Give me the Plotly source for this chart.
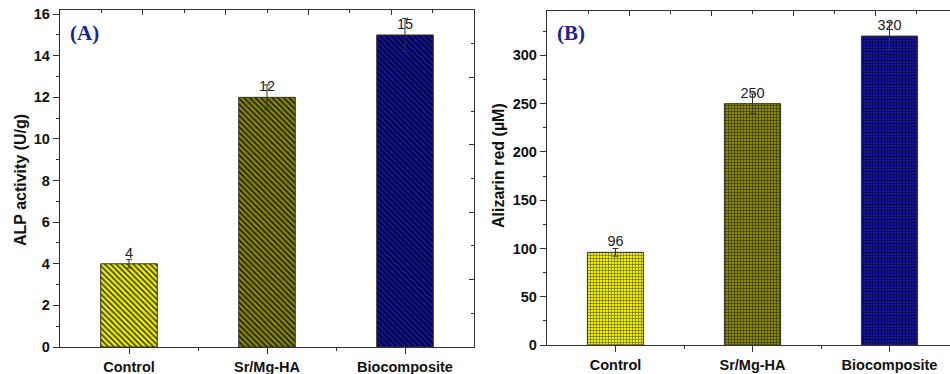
import plotly.graph_objects as go

categories = ["Control", "Sr/Mg-HA", "Biocomposite"]
alp_values = [4, 12, 15]
alp_errors = [0.2, 0.6, 0.8]
alizarin_values = [96, 250, 320]
alizarin_errors = [4, 10, 14]
alp_labels = ["4", "12", "15"]
alizarin_labels = ["96", "250", "320"]

bar_bg = ["#f0f000", "#8a8a00", "#14149e"]
bar_fg = ["#3c3c00", "#1c1c00", "#000020"]

W, H = 950, 374
xpos = list(range(len(categories)))

fig = go.Figure()

for i, cat in enumerate(categories):
    common = dict(x=[xpos[i]], width=0.41, showlegend=False, hoverinfo="skip", cliponaxis=False,
                  textposition="outside", name=cat,
                  textfont=dict(family="Arial, Liberation Sans", size=14.5, color="#222222"))
    fig.add_trace(go.Bar(
        y=[alp_values[i]], xaxis="x", yaxis="y", text=[alp_labels[i]],
        marker=dict(color=bar_bg[i], line=dict(color="#333333", width=1),
                    pattern=dict(shape="\\", fgcolor=bar_fg[i], bgcolor=bar_bg[i],
                                 fgopacity=1, size=4, solidity=0.4)),
        error_y=dict(type="data", array=[alp_errors[i]], color="#333333", thickness=1, width=3),
        **common))
    fig.add_trace(go.Bar(
        y=[alizarin_values[i]], xaxis="x2", yaxis="y2", text=[alizarin_labels[i]],
        marker=dict(color=bar_bg[i], line=dict(color="#333333", width=1),
                    pattern=dict(shape="+", fgcolor=bar_fg[i], bgcolor=bar_bg[i],
                                 fgopacity=1, size=3, solidity=0.3)),
        error_y=dict(type="data", array=[alizarin_errors[i]], color="#333333", thickness=1, width=3),
        **common))

# empty helper traces so the mirrored (top / right) frame axes get drawn
for xa, ya in [("x3", "y"), ("x", "y3"), ("x4", "y2")]:
    fig.add_trace(go.Scatter(x=[None], y=[None], xaxis=xa, yaxis=ya, mode="markers",
                             showlegend=False, hoverinfo="skip"))

line_c = "#333333"
tickfont = dict(family="Arial, Liberation Sans", size=14.5, color="#111111", weight="bold")
titlefont = dict(family="Arial, Liberation Sans", size=16, color="#111111", weight="bold")

xr_a = [-0.5, 2.5]
xr_b = [-0.5, -0.5 + (W - 547) / 137.0]
top_major = [0.1, 0.7, 1.3, 1.9]
top_minor = [-0.2, 0.4, 1.0, 1.6, 2.2]

def bottom_x(domain, rng, anchor):
    return dict(domain=domain, range=rng, anchor=anchor, tickvals=xpos, ticktext=categories,
                ticks="outside", ticklen=6, tickcolor=line_c, tickwidth=1.2,
                minor=dict(tickvals=[0.5, 1.5], ticklen=3, tickcolor=line_c, ticks="outside"),
                showline=True, linecolor=line_c, linewidth=1.3, showgrid=False, zeroline=False,
                tickfont=tickfont, fixedrange=True, automargin=False)

def top_x(over, rng, anchor):
    return dict(overlaying=over, side="top", range=rng, anchor=anchor, tickvals=top_major,
                ticks="inside", ticklen=5, tickcolor=line_c, tickwidth=1.2,
                minor=dict(tickvals=top_minor, ticklen=3, tickcolor=line_c, ticks="inside"),
                showline=True, linecolor=line_c, linewidth=1.3, showgrid=False, zeroline=False,
                showticklabels=False, automargin=False, fixedrange=True)

fig.update_layout(
    template="none", barmode="overlay",
    width=W, height=H, margin=dict(l=0, r=0, t=0, b=0, pad=0), autosize=False,
    paper_bgcolor="white", plot_bgcolor="white", showlegend=False,
    xaxis=bottom_x([60 / W, 474 / W], xr_a, "y"),
    yaxis=dict(domain=[27 / H, 364 / H], range=[0, 16.2], anchor="x", dtick=2,
               ticks="outside", ticklen=6, tickcolor=line_c, tickwidth=1.2,
               minor=dict(dtick=1, ticklen=3, tickcolor=line_c, ticks="outside"),
               showline=True, linecolor=line_c, linewidth=1.3, showgrid=False, zeroline=False,
               tickfont=tickfont, fixedrange=True, automargin=False),
    xaxis3=top_x("x", xr_a, "y"),
    yaxis3=dict(overlaying="y", side="right", range=[0, 16.2], anchor="x",
                tickvals=[3.24, 6.48, 9.72, 12.96], ticks="inside", ticklen=5, tickcolor=line_c,
                minor=dict(tickvals=[1.62, 4.86, 8.1, 11.34, 14.58], ticklen=3, tickcolor=line_c, ticks="inside"),
                showline=True, linecolor=line_c, linewidth=1.3, showgrid=False, zeroline=False,
                showticklabels=False, automargin=False, fixedrange=True),
    xaxis2=bottom_x([547 / W, 1.0], xr_b, "y2"),
    yaxis2=dict(domain=[29 / H, 363 / H], range=[0, 346], anchor="x2", dtick=50,
                ticks="outside", ticklen=6, tickcolor=line_c, tickwidth=1.2,
                minor=dict(dtick=25, ticklen=3, tickcolor=line_c, ticks="outside"),
                showline=True, linecolor=line_c, linewidth=1.3, showgrid=False, zeroline=False,
                tickfont=tickfont, fixedrange=True, automargin=False),
    xaxis4=top_x("x2", xr_b, "y2"),
    annotations=[
        dict(text="ALP activity (U/g)", x=20 / W, y=(H - 180) / H, xref="paper", yref="paper",
             textangle=-90, showarrow=False, xanchor="center", yanchor="middle", font=titlefont),
        dict(text="Alizarin red (µM)", x=498 / W, y=(H - 166) / H, xref="paper", yref="paper",
             textangle=-90, showarrow=False, xanchor="center", yanchor="middle", font=titlefont),
        dict(text="(A)", x=84 / W, y=(H - 33) / H, xref="paper", yref="paper",
             showarrow=False, xanchor="center", yanchor="middle",
             font=dict(family="Liberation Serif, Times New Roman", size=21, color="#1f1f99", weight="bold")),
        dict(text="(B)", x=571 / W, y=(H - 33) / H, xref="paper", yref="paper",
             showarrow=False, xanchor="center", yanchor="middle",
             font=dict(family="Liberation Serif, Times New Roman", size=21, color="#1f1f99", weight="bold")),
    ],
)

fig.write_html("out.html")
